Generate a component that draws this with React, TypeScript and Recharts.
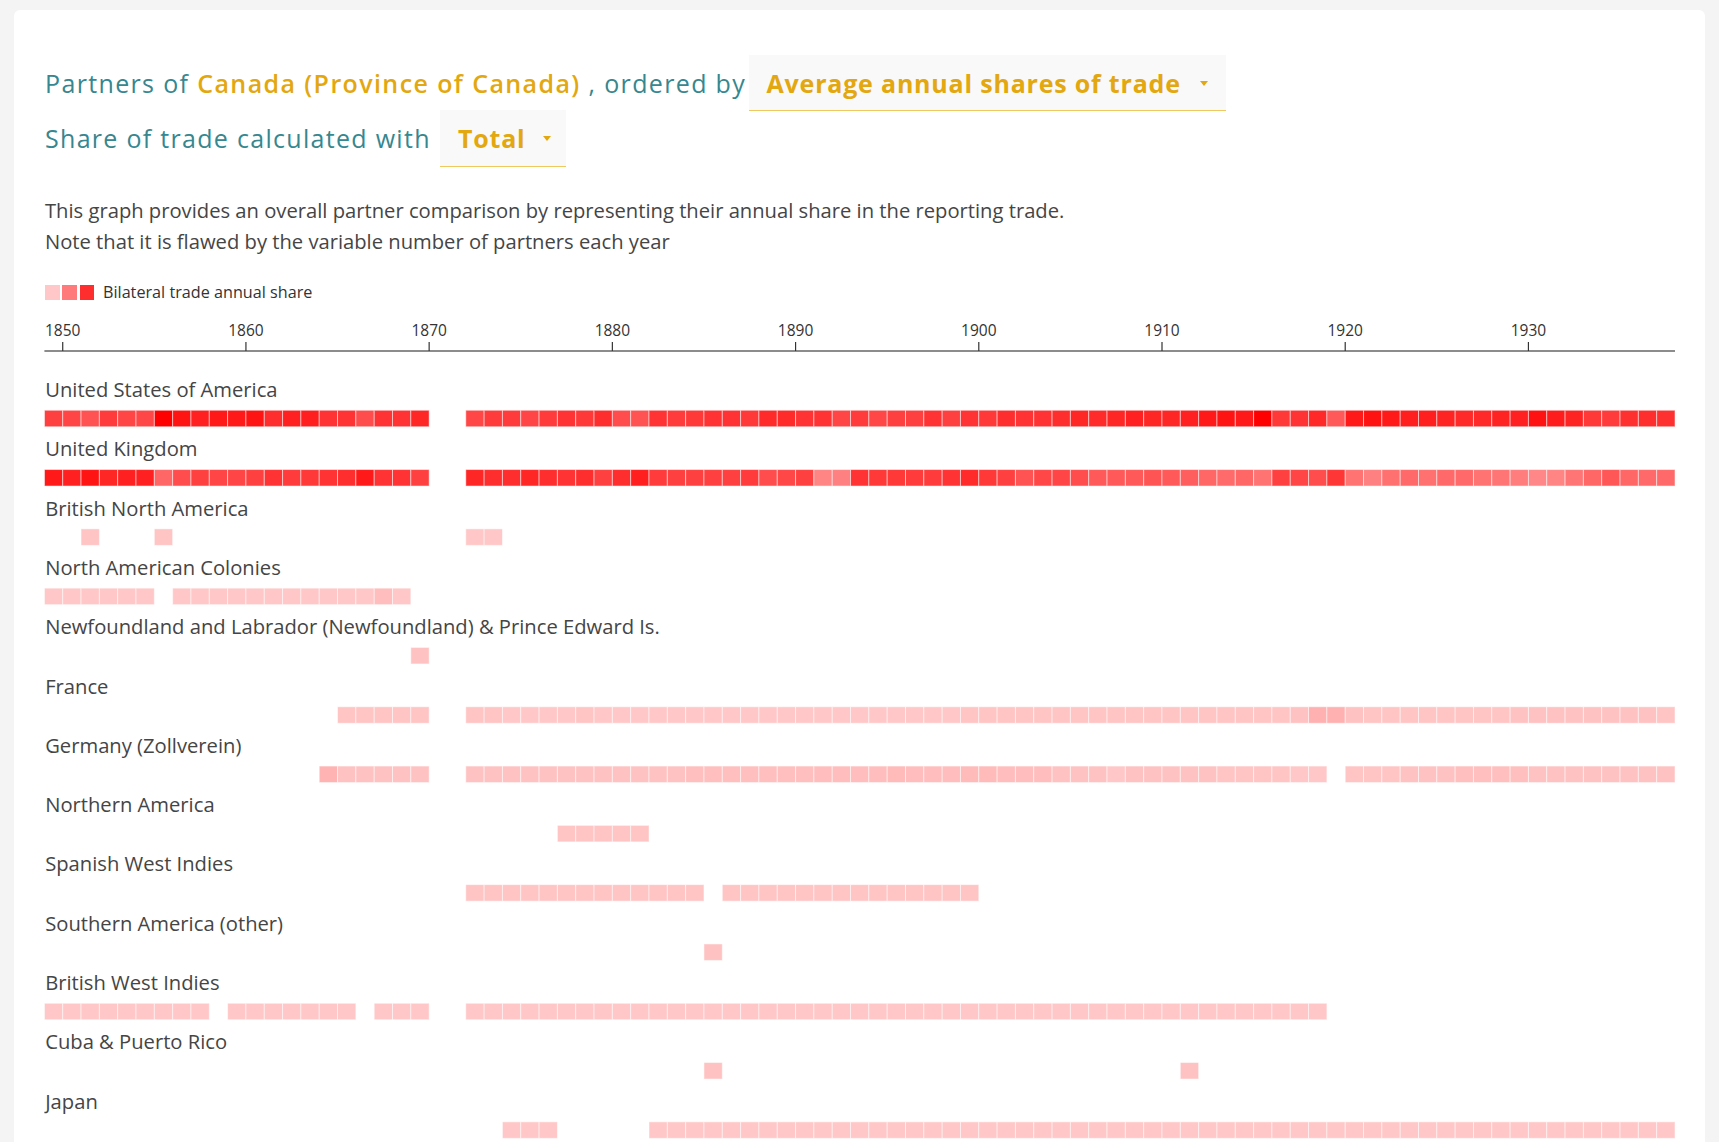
import React from 'react';
import { ScatterChart, Scatter, XAxis, YAxis } from 'recharts';

// ---------- data ----------
const FIRST_YEAR = 1849;
const LAST_YEAR = 1938;
const yearTicks = [1850, 1860, 1870, 1880, 1890, 1900, 1910, 1920, 1930];

const partners = [
  'United States of America',
  'United Kingdom',
  'British North America',
  'North American Colonies',
  'Newfoundland and Labrador (Newfoundland) & Prince Edward Is.',
  'France',
  'Germany (Zollverein)',
  'Northern America',
  'Spanish West Indies',
  'Southern America (other)',
  'British West Indies',
  'Cuba & Puerto Rico',
  'Japan',
];

// each series: [first year of segment, relative annual share per year]
type Segments = [number, number[]][];

const usaShare: Segments = [
  [1849, [0.75, 0.73, 0.68, 0.77, 0.73, 0.72, 1.0, 0.92, 0.87, 0.9, 0.9, 0.92, 0.82, 0.87, 0.88, 0.8, 0.8, 0.7, 0.8, 0.8, 0.85]],
  [1872, [
    0.72, 0.77, 0.77, 0.73, 0.77, 0.8, 0.78, 0.82, 0.7, 0.68,
    0.8, 0.77, 0.78, 0.8, 0.8, 0.78, 0.83, 0.83, 0.8, 0.8,
    0.73, 0.77, 0.72, 0.75, 0.75, 0.8, 0.75, 0.8, 0.78, 0.82,
    0.8, 0.8, 0.82, 0.85, 0.83, 0.85, 0.87, 0.85, 0.85, 0.87,
    0.9, 0.92, 0.9, 1.0, 0.78, 0.8, 0.84, 0.65, 0.9, 0.93,
    0.9, 0.88, 0.88, 0.86, 0.84, 0.84, 0.86, 0.87, 0.93, 0.89,
    0.86, 0.78, 0.77, 0.81, 0.82, 0.81,
  ]],
];

const ukShare: Segments = [
  [1849, [0.9, 0.87, 0.92, 0.85, 0.87, 0.87, 0.6, 0.7, 0.75, 0.73, 0.73, 0.75, 0.8, 0.77, 0.78, 0.8, 0.82, 0.9, 0.8, 0.8, 0.75]],
  [1872, [
    0.85, 0.82, 0.82, 0.85, 0.82, 0.8, 0.82, 0.75, 0.82, 0.88,
    0.77, 0.75, 0.75, 0.75, 0.75, 0.77, 0.7, 0.72, 0.75, 0.48,
    0.5, 0.8, 0.78, 0.78, 0.77, 0.77, 0.8, 0.83, 0.78, 0.75,
    0.68, 0.72, 0.73, 0.7, 0.65, 0.65, 0.65, 0.67, 0.65, 0.63,
    0.6, 0.58, 0.6, 0.55, 0.75, 0.73, 0.7, 0.79, 0.55, 0.5,
    0.56, 0.59, 0.56, 0.59, 0.59, 0.55, 0.54, 0.51, 0.47, 0.48,
    0.54, 0.6, 0.66, 0.6, 0.59, 0.59,
  ]],
];

const bnaShare: Segments = [
  [1851, [0.23]],
  [1855, [0.23]],
  [1872, [0.22, 0.22]],
];

const nacShare: Segments = [
  [1849, [0.22, 0.22, 0.22, 0.22, 0.22, 0.22]],
  [1856, [0.22, 0.22, 0.22, 0.22, 0.22, 0.22, 0.22, 0.22, 0.22, 0.22, 0.22, 0.26, 0.22]],
];

const nflShare: Segments = [[1869, [0.24]]];

const franceShare: Segments = [
  [1865, [0.23, 0.23, 0.23, 0.23, 0.23]],
  [1872, [
    0.23, 0.23, 0.22, 0.22, 0.22, 0.22, 0.23, 0.22, 0.22, 0.22,
    0.22, 0.22, 0.22, 0.22, 0.22, 0.22, 0.22, 0.22, 0.22, 0.22,
    0.22, 0.22, 0.22, 0.22, 0.22, 0.22, 0.22, 0.23, 0.23, 0.23,
    0.23, 0.23, 0.23, 0.23, 0.23, 0.23, 0.23, 0.23, 0.23, 0.23,
    0.23, 0.23, 0.23, 0.23, 0.23, 0.24, 0.31, 0.31, 0.24, 0.23,
    0.23, 0.23, 0.23, 0.23, 0.23, 0.23, 0.23, 0.24, 0.24, 0.24,
    0.24, 0.24, 0.24, 0.24, 0.24, 0.23,
  ]],
];

const germanyShare: Segments = [
  [1864, [0.3, 0.24, 0.24, 0.24, 0.24, 0.24]],
  [1872, [
    0.24, 0.24, 0.24, 0.24, 0.24, 0.24, 0.24, 0.24, 0.24, 0.24,
    0.24, 0.24, 0.25, 0.25, 0.25, 0.25, 0.25, 0.25, 0.25, 0.26,
    0.26, 0.26, 0.26, 0.27, 0.26, 0.26, 0.26, 0.27, 0.27, 0.26,
    0.26, 0.26, 0.24, 0.24, 0.24, 0.22, 0.24, 0.24, 0.24, 0.24,
    0.24, 0.23, 0.23, 0.23, 0.23, 0.22, 0.22,
  ]],
  [1920, [0.23, 0.23, 0.23, 0.24, 0.24, 0.24, 0.25, 0.25, 0.25, 0.25, 0.24, 0.24, 0.24, 0.24, 0.24, 0.24, 0.24, 0.24]],
];

const northernAmShare: Segments = [[1877, [0.23, 0.23, 0.23, 0.23, 0.23]]];

const swiShare: Segments = [
  [1872, [0.23, 0.23, 0.23, 0.23, 0.23, 0.23, 0.23, 0.23, 0.23, 0.23, 0.23, 0.23, 0.23]],
  [1886, [0.23, 0.23, 0.23, 0.23, 0.23, 0.23, 0.23, 0.23, 0.23, 0.23, 0.23, 0.23, 0.23, 0.23]],
];

const saOtherShare: Segments = [[1885, [0.24]]];

const bwiShare: Segments = [
  [1849, [0.22, 0.22, 0.22, 0.22, 0.22, 0.22, 0.22, 0.22, 0.22]],
  [1859, [0.22, 0.22, 0.22, 0.22, 0.22, 0.22, 0.22]],
  [1867, [0.22, 0.22, 0.22]],
  [1872, [
    0.22, 0.22, 0.22, 0.22, 0.22, 0.22, 0.22, 0.22, 0.22, 0.22,
    0.22, 0.22, 0.22, 0.22, 0.22, 0.22, 0.22, 0.22, 0.22, 0.22,
    0.22, 0.22, 0.22, 0.22, 0.22, 0.22, 0.22, 0.22, 0.22, 0.22,
    0.22, 0.22, 0.22, 0.22, 0.22, 0.22, 0.22, 0.22, 0.22, 0.22,
    0.22, 0.22, 0.22, 0.22, 0.22, 0.22, 0.22,
  ]],
];

const cubaShare: Segments = [
  [1885, [0.24]],
  [1911, [0.24]],
];

const japanShare: Segments = [
  [1874, [0.22, 0.22, 0.22]],
  [1882, [
    0.22, 0.22, 0.22, 0.22, 0.22, 0.22, 0.22, 0.22, 0.22, 0.22,
    0.22, 0.22, 0.22, 0.22, 0.22, 0.22, 0.22, 0.22, 0.22, 0.22,
    0.22, 0.22, 0.22, 0.22, 0.22, 0.22, 0.22, 0.22, 0.22, 0.22,
    0.22, 0.22, 0.22, 0.22, 0.22, 0.22, 0.22, 0.22, 0.22, 0.22,
    0.22, 0.22, 0.22, 0.22, 0.22, 0.22, 0.22, 0.22, 0.22, 0.22,
    0.22, 0.22, 0.22, 0.22, 0.22, 0.22,
  ]],
];

const shareByPartner: Segments[] = [
  usaShare, ukShare, bnaShare, nacShare, nflShare, franceShare, germanyShare,
  northernAmShare, swiShare, saOtherShare, bwiShare, cubaShare, japanShare,
];

const legendShares = [0.22, 0.52, 0.82];

const cells = partners.flatMap((name, row) =>
  shareByPartner[row].flatMap(([start, values]) =>
    values.map((share, k) => ({ year: start + k + 0.5, row, share, name }))
  )
);

const labelPoints = partners.map((name, row) => ({ year: FIRST_YEAR, row, name }));

// ---------- styles / layout ----------
const TEAL = '#36878f';
const GOLD = '#e3a70f';
const TEXT = '#454545';
const FONT = '"Open Sans", "Noto Sans", sans-serif';

const W = 1719;
const CHART_TOP = 300;
const CHART_H = 842;
const MARGIN_LEFT = 44.4;
const MARGIN_RIGHT = 44;
const MARGIN_TOP = 21;
const AXIS_H = 30;
const PLOT_TOP = MARGIN_TOP + AXIS_H;
const ROW_PITCH = 59.3;
const FIRST_ROW_OFFSET = 67.5;
const CELL_H = 16.5;
const LABEL_OFFSET = 28.5;
const STEP = (W - MARGIN_LEFT - MARGIN_RIGHT) / (LAST_YEAR - FIRST_YEAR);
const Y_LO = -FIRST_ROW_OFFSET / ROW_PITCH;
const Y_HI = Y_LO + (CHART_H - PLOT_TOP) / ROW_PITCH;

function shareColor(t: number): string {
  const c = Math.round(255 * (1 - t));
  return `rgb(255,${c},${c})`;
}

const CellShape = (props: any) => {
  const { cx, cy, payload } = props;
  if (cx == null || cy == null) return null;
  return (
    <rect
      x={cx - STEP / 2}
      y={cy - CELL_H / 2}
      width={STEP}
      height={CELL_H}
      fill={shareColor(payload.share)}
      stroke="#ffffff"
      strokeOpacity={0.5}
      strokeWidth={1}
    />
  );
};

const LabelShape = (props: any) => {
  const { cx, cy, payload } = props;
  if (cx == null || cy == null) return null;
  return (
    <text x={cx + 0.8} y={cy - LABEL_OFFSET} dy="0.35em" fill={TEXT} fontSize={20.2} fontFamily={FONT}>
      {payload.name}
    </text>
  );
};

const Caret = ({ left, top }: { left: number; top: number }) => (
  <div
    style={{
      position: 'absolute', left, top, width: 0, height: 0,
      borderLeft: '4.5px solid transparent', borderRight: '4.5px solid transparent',
      borderTop: '5px solid ' + GOLD,
    }}
  />
);

export default function App() {
  const abs = (s: React.CSSProperties): React.CSSProperties => ({ position: 'absolute', whiteSpace: 'nowrap', ...s });
  return (
    <div style={abs({ left: 0, top: 0, width: W, height: 1142, overflow: 'hidden', background: '#f4f4f4', fontFamily: FONT })}>
      <div style={abs({ left: 14, top: 10, width: W - 28, height: 1200, background: '#ffffff', borderRadius: 6 })} />

      {/* title line 1 */}
      <div style={abs({ left: 45, top: 63, height: 40, lineHeight: '40px', fontSize: 25, color: TEAL, letterSpacing: 1.35 })}>
        Partners of <span style={{ color: GOLD, fontWeight: 600, letterSpacing: 1.4 }}>Canada (Province of Canada)</span> , ordered by
      </div>
      <div style={abs({ left: 748.5, top: 55, width: 477, height: 55, background: '#f9f9f9', borderBottom: '1.5px solid #f0c860' })}>
        <div style={abs({ left: 18, top: 0, lineHeight: '56px', fontSize: 25, fontWeight: 700, color: GOLD, letterSpacing: 0.8 })}>
          Average annual shares of trade
        </div>
      </div>
      <Caret left={1200} top={81} />

      {/* title line 2 */}
      <div style={abs({ left: 45, top: 118, height: 40, lineHeight: '40px', fontSize: 25, color: TEAL, letterSpacing: 1.3 })}>
        Share of trade calculated with
      </div>
      <div style={abs({ left: 440, top: 110, width: 126, height: 56, background: '#f9f9f9', borderBottom: '1.5px solid #f0c860' })}>
        <div style={abs({ left: 18, top: 0, lineHeight: '57px', fontSize: 25, fontWeight: 700, color: GOLD, letterSpacing: 0.8 })}>Total</div>
      </div>
      <Caret left={543} top={136} />

      {/* description */}
      <div style={abs({ left: 45, top: 195, lineHeight: '30.5px', fontSize: 20.2, color: TEXT })}>
        This graph provides an overall partner comparison by representing their annual share in the reporting trade.
        <br />
        Note that it is flawed by the variable number of partners each year
      </div>

      {/* legend */}
      {legendShares.map((s, i) => (
        <div key={i} style={abs({ left: 45 + i * 17.4, top: 285, width: 14.5, height: 14.5, background: shareColor(s) })} />
      ))}
      <div style={abs({ left: 103, top: 282, lineHeight: '20px', fontSize: 16.2, color: '#333' })}>Bilateral trade annual share</div>

      {/* chart */}
      <div style={abs({ left: 0, top: CHART_TOP })}>
        <ScatterChart
          width={W}
          height={CHART_H}
          margin={{ top: MARGIN_TOP, right: MARGIN_RIGHT, bottom: 0, left: MARGIN_LEFT }}
        >
          <XAxis
            type="number"
            dataKey="year"
            orientation="top"
            domain={[FIRST_YEAR, LAST_YEAR]}
            allowDataOverflow
            ticks={yearTicks}
            interval={0}
            height={AXIS_H}
            tickSize={9}
            tickMargin={6}
            axisLine={{ stroke: '#666', strokeWidth: 1.5 }}
            tickLine={{ stroke: '#333', strokeWidth: 1.2 }}
            tick={{ fill: '#333', fontSize: 15.5, fontFamily: FONT }}
          />
          <YAxis
            type="number"
            dataKey="row"
            domain={[Y_LO, Y_HI]}
            allowDataOverflow
            reversed
            hide
            width={0}
          />
          <Scatter data={cells} shape={CellShape} isAnimationActive={false} />
          <Scatter data={labelPoints} shape={LabelShape} isAnimationActive={false} />
        </ScatterChart>
      </div>
    </div>
  );
}
